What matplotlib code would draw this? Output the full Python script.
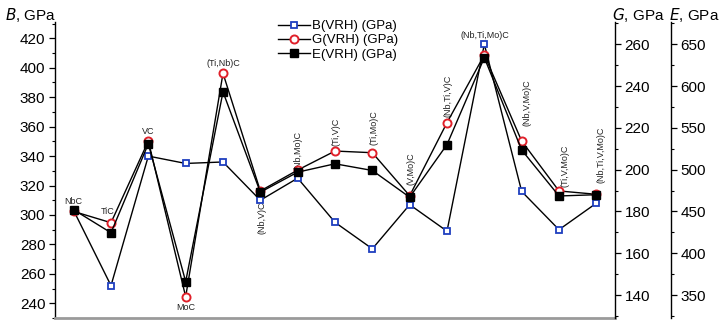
import matplotlib
matplotlib.use("Agg")
import matplotlib.pyplot as plt
from matplotlib.ticker import MultipleLocator

plt.rcParams['font.family'] = ['Liberation Sans', 'DejaVu Sans']

categories = ["NbC", "TiC", "VC", "MoC", "(Ti,Nb)C", "(Nb,V)C", "(Nb,Mo)C", "(Ti,V)C",
              "(Ti,Mo)C", "(V,Mo)C", "(Nb,Ti,V)C", "(Nb,Ti,Mo)C", "(Nb,V,Mo)C",
              "(Ti,V,Mo)C", "(Nb,Ti,V,Mo)C"]
B_vals = [303, 252, 340, 335, 336, 310, 325, 295, 277, 307, 289, 416, 316, 290, 308]
G_vals = [180, 174.6, 213.7, 139.2, 246.1, 189.8, 199.8, 208.9, 208.1, 187.5, 222.5, 254.9, 213.7, 189.8, 188.2]
E_vals = [452, 424.5, 531, 366, 593, 473, 497, 507, 499, 467, 530, 634, 523.5, 468.5, 470]
series_names = ["B(VRH) (GPa)", "G(VRH) (GPa)", "E(VRH) (GPa)"]

W, H = 725, 323
fig = plt.figure(figsize=(W / 100, H / 100), dpi=100)
L, R, T, Bt = 55, 615, 21.7, 318
ax = fig.add_axes([L / W, 1 - Bt / H, (R - L) / W, (Bt - T) / H])
axG = ax.twinx()
axE = ax.twinx()

x = list(range(len(categories)))
lB, = ax.plot(x, B_vals, color='black', lw=1.0, marker='s', ms=4.5, mfc='white',
              mec='#1f3fbf', mew=1.3, zorder=3)
lG, = axG.plot(x, G_vals, color='black', lw=1.0, marker='o', ms=5.8, mfc='white',
               mec='#e0202a', mew=1.4, zorder=3)
lE, = axE.plot(x, E_vals, color='black', lw=1.0, marker='s', ms=5.6, mfc='black',
               mec='black', zorder=3)

ax.set_xlim(-0.5, 14.5)
ax.set_ylim(230, 431.3)
axG.set_ylim(129, 270.8)
axE.set_ylim(322.5, 677)

for a in (ax, axG, axE):
    a.spines['top'].set_visible(False)
    a.set_xticks([])
ax.spines['right'].set_visible(False)
ax.spines['bottom'].set_color('#9a9a9a')
ax.spines['bottom'].set_linewidth(2.0)
axG.spines['bottom'].set_visible(False)
axE.spines['bottom'].set_visible(False)
axG.spines['left'].set_visible(False)
axE.spines['left'].set_visible(False)
axE.spines['right'].set_position(('axes', (671 - L) / (R - L)))

ax.yaxis.set_major_locator(MultipleLocator(20))
ax.yaxis.set_minor_locator(MultipleLocator(10))
axG.yaxis.set_major_locator(MultipleLocator(20))
axG.yaxis.set_minor_locator(MultipleLocator(10))
axE.yaxis.set_major_locator(MultipleLocator(50))
axE.yaxis.set_minor_locator(MultipleLocator(25))
for a in (ax, axG, axE):
    a.tick_params(axis='y', which='major', direction='out', length=4, width=0.9,
                  labelsize=11, pad=3)
    a.tick_params(axis='y', which='minor', direction='out', length=2.5, width=0.8)
    for s in ('left', 'right'):
        a.spines[s].set_linewidth(1.0)

# category labels: (x offset in category units, y position in pixels from top, rotation)
label_pos = [
    (0.0, 201, 0), (-0.1, 212, 0), (0.0, 131, 0), (0.0, 307, 0), (0.0, 63, 0),
    (0.05, 218, 90), (0.0, 151, 90), (0.02, 132, 90), (0.04, 128, 90), (0.03, 169, 90),
    (0.02, 96, 90), (0.02, 35, 0), (0.15, 103, 90), (0.15, 166, 90), (0.12, 155, 90),
]
tr = ax.get_xaxis_transform()
for i, (name, (dx, py, rot)) in enumerate(zip(categories, label_pos)):
    ax.text(i + dx, (Bt - py) / (Bt - T), name, transform=tr, rotation=rot,
            ha='center', va='center', fontsize=6.5, color='#222222', zorder=5)

handles = [lB, lG, lE]
leg = fig.legend(handles, series_names, loc='upper left',
                 bbox_to_anchor=(278 / W, 1 - 20 / H), frameon=False, fontsize=9.5,
                 handlelength=2.4, handletextpad=0.2, labelspacing=0.15,
                 borderpad=0, borderaxespad=0)

fig.text(5 / W, 1 - 15 / H, r"$\it{B}$, GPa", fontsize=11, va='center', ha='left')
fig.text(612 / W, 1 - 15 / H, r"$\it{G}$, GPa", fontsize=11, va='center', ha='left')
fig.text(669 / W, 1 - 15 / H, r"$\it{E}$, GPa", fontsize=11, va='center', ha='left')

fig.savefig("out.png", dpi=100)
